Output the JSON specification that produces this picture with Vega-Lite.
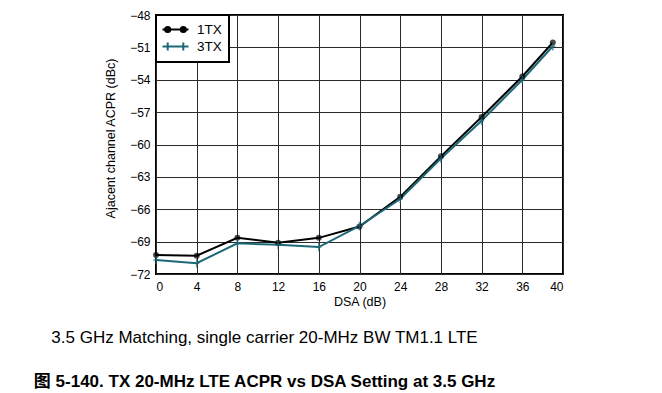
{
  "$schema": "https://vega.github.io/schema/vega-lite/v6.json",
  "width": 407,
  "height": 259,
  "autosize": "none",
  "padding": {"left": 156, "top": 15, "right": 99, "bottom": 119},
  "background": "white",
  "config": {
    "font": "Liberation Sans",
    "view": {"stroke": "black", "strokeWidth": 2},
    "axis": {
      "labelFont": "Liberation Sans",
      "labelFontSize": 12,
      "labelColor": "black",
      "titleFont": "Liberation Sans",
      "titleFontSize": 12.5,
      "titleFontWeight": "normal",
      "titleColor": "black",
      "grid": true,
      "gridColor": "#2a2a2a",
      "gridOpacity": 1,
      "gridWidth": 1,
      "domain": false,
      "ticks": false
    }
  },
  "title": {
    "text": "3.5 GHz Matching, single carrier 20-MHz BW TM1.1 LTE",
    "subtitle": "图 5-140. TX 20-MHz LTE ACPR vs DSA Setting at 3.5 GHz",
    "orient": "bottom",
    "anchor": "middle",
    "frame": "group",
    "dx": -95,
    "offset": 22,
    "font": "Liberation Sans",
    "fontSize": 17,
    "fontWeight": "normal",
    "color": "black",
    "subtitleFont": "Liberation Sans, Noto Sans CJK SC",
    "subtitleFontSize": 17,
    "subtitleFontWeight": "bold",
    "subtitleColor": "black",
    "subtitlePadding": 27
  },
  "data": {
    "values": [
      {"dsa": 0, "acpr": -70.25, "series": "1TX"},
      {"dsa": 4, "acpr": -70.3, "series": "1TX"},
      {"dsa": 8, "acpr": -68.65, "series": "1TX"},
      {"dsa": 12, "acpr": -69.1, "series": "1TX"},
      {"dsa": 16, "acpr": -68.65, "series": "1TX"},
      {"dsa": 20, "acpr": -67.6, "series": "1TX"},
      {"dsa": 24, "acpr": -64.85, "series": "1TX"},
      {"dsa": 28, "acpr": -61.1, "series": "1TX"},
      {"dsa": 32, "acpr": -57.45, "series": "1TX"},
      {"dsa": 36, "acpr": -53.7, "series": "1TX"},
      {"dsa": 39, "acpr": -50.55, "series": "1TX"},
      {"dsa": 0, "acpr": -70.7, "series": "3TX"},
      {"dsa": 4, "acpr": -71.0, "series": "3TX"},
      {"dsa": 8, "acpr": -69.15, "series": "3TX"},
      {"dsa": 12, "acpr": -69.3, "series": "3TX"},
      {"dsa": 16, "acpr": -69.5, "series": "3TX"},
      {"dsa": 20, "acpr": -67.55, "series": "3TX"},
      {"dsa": 24, "acpr": -65.05, "series": "3TX"},
      {"dsa": 28, "acpr": -61.3, "series": "3TX"},
      {"dsa": 32, "acpr": -57.8, "series": "3TX"},
      {"dsa": 36, "acpr": -54.0, "series": "3TX"},
      {"dsa": 39, "acpr": -50.9, "series": "3TX"}
    ]
  },
  "encoding": {
    "x": {
      "field": "dsa",
      "type": "quantitative",
      "title": "DSA (dB)",
      "scale": {"domain": [0, 40], "nice": false, "zero": false},
      "axis": {"values": [0, 4, 8, 12, 16, 20, 24, 28, 32, 36, 40], "labelPadding": 7, "titlePadding": 3}
    },
    "y": {
      "field": "acpr",
      "type": "quantitative",
      "title": "Ajacent channel ACPR (dBc)",
      "scale": {"domain": [-72, -48], "nice": false, "zero": false},
      "axis": {"values": [-72, -69, -66, -63, -60, -57, -54, -51, -48], "labelPadding": 6, "titlePadding": 12, "titleY": 123}
    },
    "color": {
      "field": "series",
      "type": "nominal",
      "scale": {"domain": ["1TX", "3TX"], "range": ["#000000", "#1d6878"]},
      "legend": null
    }
  },
  "layer": [
    {
      "mark": {"type": "line", "strokeWidth": 2},
      "encoding": {
        "color": {
          "field": "series",
          "type": "nominal",
          "scale": {"domain": ["1TX", "3TX"], "range": ["#000000", "#1d6878"]},
          "legend": {
            "title": null,
            "orient": "top-left",
            "offset": 0,
            "fillColor": "white",
            "strokeColor": "black",
            "padding": 7,
            "labelFont": "Liberation Sans",
            "labelFontSize": 13.5,
            "labelColor": "black",
            "symbolSize": 169,
            "symbolStrokeWidth": 2,
            "symbolOffset": 5,
            "labelOffset": 14,
            "rowPadding": 1,
            "encode": {
              "legend": {"update": {"strokeWidth": {"value": 2}}},
              "symbols": {
                "update": {
                  "shape": [
                    {"test": "datum.value === '1TX'", "value": "M-2,0H2M-1.6,0a0.4,0.4 0 1,0 0.8,0a0.4,0.4 0 1,0 -0.8,0M0.8,0a0.4,0.4 0 1,0 0.8,0a0.4,0.4 0 1,0 -0.8,0"},
                    {"value": "M-2,0H2M-1.2,-0.6V0.6M1.2,-0.6V0.6"}
                  ],
                  "fill": [
                    {"test": "datum.value === '1TX'", "value": "black"},
                    {"value": "transparent"}
                  ]
                }
              }
            }
          }
        }
      }
    },
    {
      "mark": {"type": "point", "filled": true, "size": 36, "shape": "circle"},
      "transform": [{"filter": "datum.series === '1TX'"}],
      "encoding": {}
    },
    {
      "mark": {"type": "point", "filled": false, "size": 70, "strokeWidth": 1.5, "shape": "M0,-1V1M-0.6,0H0.6"},
      "transform": [{"filter": "datum.series === '3TX'"}],
      "encoding": {}
    }
  ]
}
